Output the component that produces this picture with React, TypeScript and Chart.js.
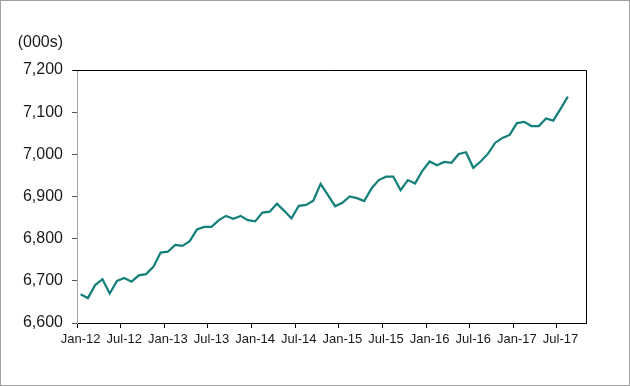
import React, { useEffect, useRef } from "react";
import { Chart, registerables } from "chart.js";

Chart.register(...registerables);

// Monthly values (000s)
const v2012 = [6668, 6659, 6690, 6704, 6670, 6700, 6707, 6698, 6713, 6716, 6733, 6767];
const v2013 = [6769, 6785, 6783, 6794, 6822, 6828, 6828, 6844, 6854, 6847, 6854, 6844];
const v2014 = [6841, 6862, 6864, 6883, 6866, 6848, 6878, 6880, 6890, 6930, 6904, 6877];
const v2015 = [6885, 6900, 6896, 6889, 6919, 6939, 6947, 6947, 6915, 6939, 6931, 6961];
const v2016 = [6983, 6974, 6982, 6980, 7001, 7005, 6968, 6983, 7001, 7027, 7039, 7046];
const v2017 = [7074, 7077, 7067, 7067, 7085, 7080, 7108, 7137];

const months = ["Jan", "Feb", "Mar", "Apr", "May", "Jun", "Jul", "Aug", "Sep", "Oct", "Nov", "Dec"];
const years = ["12", "13", "14", "15", "16", "17"];
// axis spans Jan-12 .. Oct-17 (70 monthly categories)
const categories = years.flatMap((y) => months.map((m) => `${m}-${y}`)).slice(0, 70);
const values = [...v2012, ...v2013, ...v2014, ...v2015, ...v2016, ...v2017];

const yMin = 6600;
const yMax = 7200;
const yStep = 100;
const unitLabel = "(000s)";

export default function App() {
  const ref = useRef<HTMLCanvasElement | null>(null);

  useEffect(() => {
    const canvas = ref.current;
    if (!canvas) return;

    const framePlugin = {
      id: "frame",
      afterDraw(chart: any) {
        const { ctx, chartArea } = chart;
        ctx.save();
        // outer border
        ctx.strokeStyle = "#a0a0a0";
        ctx.lineWidth = 1;
        ctx.strokeRect(0.5, 0.5, chart.width - 1, chart.height - 1);
        // top and right borders of plot area
        ctx.strokeStyle = "#000";
        ctx.beginPath();
        ctx.moveTo(chartArea.left - 4, Math.round(chartArea.top) + 0.5);
        ctx.lineTo(Math.round(chartArea.right) + 0.5, Math.round(chartArea.top) + 0.5);
        ctx.lineTo(Math.round(chartArea.right) + 0.5, Math.round(chartArea.bottom) + 0.5);
        ctx.stroke();
        // unit label
        ctx.fillStyle = "#1a1a1a";
        ctx.font = "16px 'Liberation Sans', Arial, sans-serif";
        ctx.textAlign = "right";
        ctx.textBaseline = "middle";
        ctx.fillText(unitLabel, 63, 43);
        ctx.restore();
      },
    };

    const chart = new Chart(canvas, {
      type: "line",
      data: {
        labels: categories,
        datasets: [
          {
            data: values,
            borderColor: "#15807b",
            borderWidth: 2.25,
            pointRadius: 0,
            tension: 0,
            fill: false,
          },
        ],
      },
      options: {
        animation: false,
        responsive: false,
        devicePixelRatio: 1,
        layout: { padding: { left: 0, right: 44, top: 70, bottom: 0 } },
        plugins: { legend: { display: false }, tooltip: { enabled: false }, title: { display: false } },
        scales: {
          x: {
            type: "category",
            offset: true,
            afterFit(scale: any) {
              scale.height = 63;
            },
            grid: {
              offset: true,
              drawOnChartArea: false,
              drawTicks: true,
              tickLength: 5,
              tickColor: (ctx: any) => (typeof ctx.index === "number" && ctx.index % 6 === 0 ? "#000" : "rgba(0,0,0,0)"),
            },
            border: { display: true, color: "#000", width: 1 },
            ticks: {
              autoSkip: false,
              maxRotation: 0,
              minRotation: 0,
              padding: 4,
              color: "#1a1a1a",
              font: { family: "'Liberation Sans Narrow', 'Arial Narrow', 'Liberation Sans', sans-serif", size: 13 },
              callback: (_v: any, i: number) => (i % 6 === 0 ? categories[i] : ""),
            },
          },
          y: {
            min: yMin,
            max: yMax,
            afterFit(scale: any) {
              scale.width = 77;
            },
            grid: {
              drawOnChartArea: false,
              drawTicks: true,
              tickLength: 5,
              tickColor: "#595959",
            },
            border: { display: true, color: "#a6a6a6", width: 1 },
            ticks: {
              stepSize: yStep,
              padding: 9,
              color: "#1a1a1a",
              font: { family: "'Liberation Sans', Arial, sans-serif", size: 16 },
              callback: (v: any) => Number(v).toLocaleString("en-US"),
            },
          },
        },
      },
      plugins: [framePlugin],
    });

    return () => chart.destroy();
  }, []);

  return (
    <div style={{ position: "fixed", left: 0, top: 0, width: 630, height: 386, background: "#fff" }}>
      <canvas ref={ref} width={630} height={386} style={{ display: "block", width: 630, height: 386 }} />
    </div>
  );
}
